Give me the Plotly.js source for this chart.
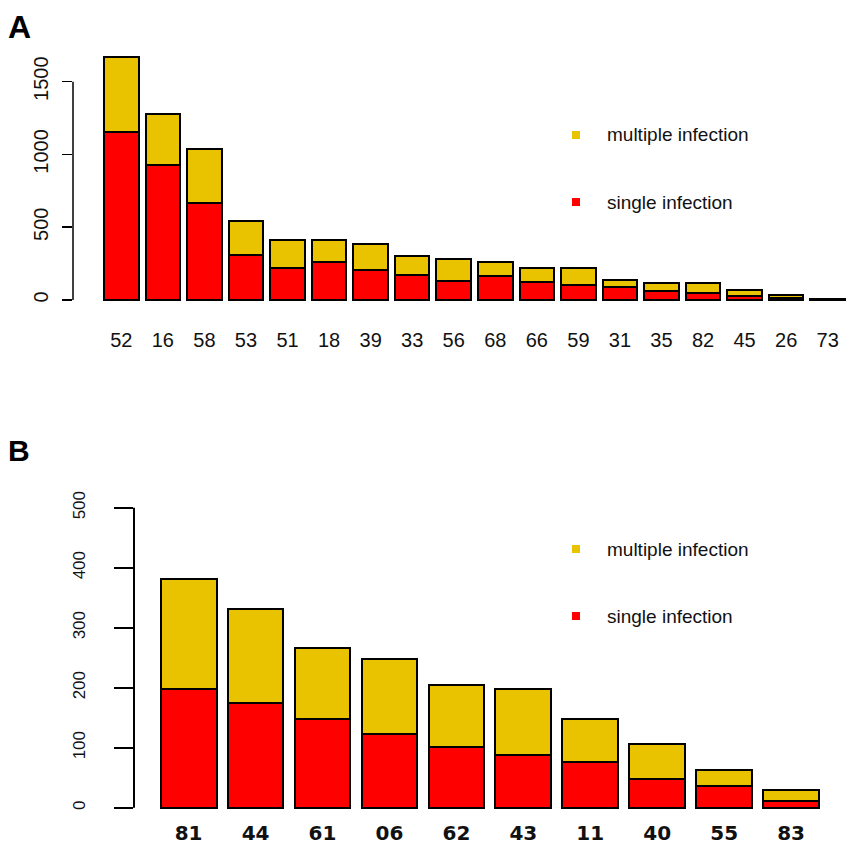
<!DOCTYPE html>
<html>
<head>
<meta charset="utf-8">
<script src="https://cdn.plot.ly/plotly-3.0.1.min.js"></script>
<style>
  html, body { margin: 0; padding: 0; background: #fff; }
  #chart { width: 854px; height: 846px; }
</style>
</head>
<body>
<div id="chart"></div>
<script>
// panel A: genotypes and counts
const genotypesA = ["52", "16", "58", "53", "51", "18", "39", "33", "56", "68", "66", "59", "31", "35", "82", "45", "26", "73"];
const singleA    = [1155, 930, 665, 310, 218, 263, 206, 172, 133, 163, 126, 103, 87, 62, 46, 27, 16, 2];
const multipleA  = [515, 347, 372, 233, 194, 149, 176, 128, 151, 100, 92, 115, 50, 53, 69, 42, 20, 2];
const yTicksA    = [0, 500, 1000, 1500];

// panel B
const genotypesB = ["81", "44", "61", "06", "62", "43", "11", "40", "55", "83"];
const singleB    = [197, 175, 147, 123, 101, 87, 76, 48, 36, 11];
const multipleB  = [184, 156, 119, 124, 103, 110, 71, 58, 26, 19];
const yTicksB    = [0, 100, 200, 300, 400, 500];

const seriesNames = ["single infection", "multiple infection"];
const RED = "#ff0000";
const GOLD = "#eac300";

const W = 854, H = 846;
const px = v => v / W;
const py = v => 1 - v / H;

const sans = "Liberation Sans, Arial, sans-serif";

function barTrace(x, y, name, color, xa, ya) {
    return {
        type: "bar",
        x: x,
        y: y,
        name: name,
        xaxis: xa,
        yaxis: ya,
        marker: { color: color, line: { color: "#000", width: 2 } },
        showlegend: false,
        hoverinfo: "skip"
    };
}

const traces = [
    barTrace(genotypesA, singleA, seriesNames[0], RED, "x", "y"),
    barTrace(genotypesA, multipleA, seriesNames[1], GOLD, "x", "y"),
    barTrace(genotypesB, singleB, seriesNames[0], RED, "x2", "y2"),
    barTrace(genotypesB, multipleB, seriesNames[1], GOLD, "x2", "y2")
];

// legend keys + labels, drawn by hand (R style)
function legendBits(yTop, yBottom) {
    const shapes = [], notes = [];
    [[yTop, GOLD, seriesNames[1]], [yBottom, RED, seriesNames[0]]].forEach(([y, c, t]) => {
        shapes.push({
            type: "rect", xref: "paper", yref: "paper",
            x0: px(572), x1: px(580), y0: py(y + 4), y1: py(y - 4),
            fillcolor: c, line: { width: 0 }
        });
        notes.push({
            text: t, xref: "paper", yref: "paper",
            x: px(605), y: py(y), xanchor: "left", yanchor: "middle",
            showarrow: false,
            font: { family: sans, size: 19, color: "#111" }
        });
    });
    return { shapes, notes };
}

const legA = legendBits(135, 202);
const legB = legendBits(549, 616);

const xDomA = [px(73), px(850)];
const xDomB = [px(134), px(850)];

const layout = {
    width: W,
    height: H,
    margin: { l: 0, r: 0, t: 0, b: 0 },
    paper_bgcolor: "#fff",
    plot_bgcolor: "#fff",
    barmode: "stack",
    bargap: 1 / 6,
    showlegend: false,

    xaxis: {
        domain: xDomA,
        anchor: "y",
        type: "category",
        range: [-1.163, 17.537],
        showline: false, showgrid: false, zeroline: false,
        ticks: "",
        ticklabelstandoff: 11,
        tickfont: { family: sans, size: 20, color: "#111" },
        automargin: false
    },
    yaxis: {
        domain: [py(315), py(40)],
        anchor: "x",
        range: [-103, 1786],
        tickvals: yTicksA,
        ticktext: yTicksA.map(String),
        ticks: "outside", ticklen: 10, tickwidth: 1.5, tickcolor: "#000",
        tickangle: -90,
        ticklabelstandoff: 6,
        showline: false, showgrid: false, zeroline: false,
        tickfont: { family: sans, size: 20, color: "#111" },
        automargin: false
    },
    xaxis2: {
        domain: xDomB,
        anchor: "y2",
        type: "category",
        range: [-0.816, 9.88],
        showline: false, showgrid: false, zeroline: false,
        ticks: "",
        ticklabelstandoff: 4,
        tickfont: { family: "DejaVu Sans, sans-serif", size: 20, color: "#111", weight: "bold" },
        automargin: false
    },
    yaxis2: {
        domain: [py(815), py(490)],
        anchor: "x2",
        range: [-12.2, 529.5],
        tickvals: yTicksB,
        ticktext: yTicksB.map(String),
        ticks: "outside", ticklen: 19, tickwidth: 2, tickcolor: "#000",
        tickangle: -90,
        ticklabelstandoff: 22,
        showline: false, showgrid: false, zeroline: false,
        tickfont: { family: sans, size: 17, color: "#111" },
        automargin: false
    },

    shapes: [
        // R-style axis lines that stop at the first and last tick
        { type: "line", xref: "paper", yref: "y", x0: xDomA[0], x1: xDomA[0],
          y0: yTicksA[0], y1: yTicksA[yTicksA.length - 1], line: { color: "#000", width: 1.5 } },
        { type: "line", xref: "paper", yref: "y2", x0: xDomB[0], x1: xDomB[0],
          y0: yTicksB[0], y1: yTicksB[yTicksB.length - 1], line: { color: "#000", width: 2 } }
    ].concat(legA.shapes, legB.shapes),

    annotations: [
        { text: "<b>A</b>", xref: "paper", yref: "paper", x: px(6), y: py(27),
          xanchor: "left", yanchor: "middle", showarrow: false,
          font: { family: sans, size: 32, color: "#000" } },
        { text: "<b>B</b>", xref: "paper", yref: "paper", x: px(6), y: py(450),
          xanchor: "left", yanchor: "middle", showarrow: false,
          font: { family: sans, size: 30, color: "#000" } }
    ].concat(legA.notes, legB.notes)
};

Plotly.newPlot("chart", traces, layout, { displayModeBar: false, staticPlot: true });
</script>
</body>
</html>
